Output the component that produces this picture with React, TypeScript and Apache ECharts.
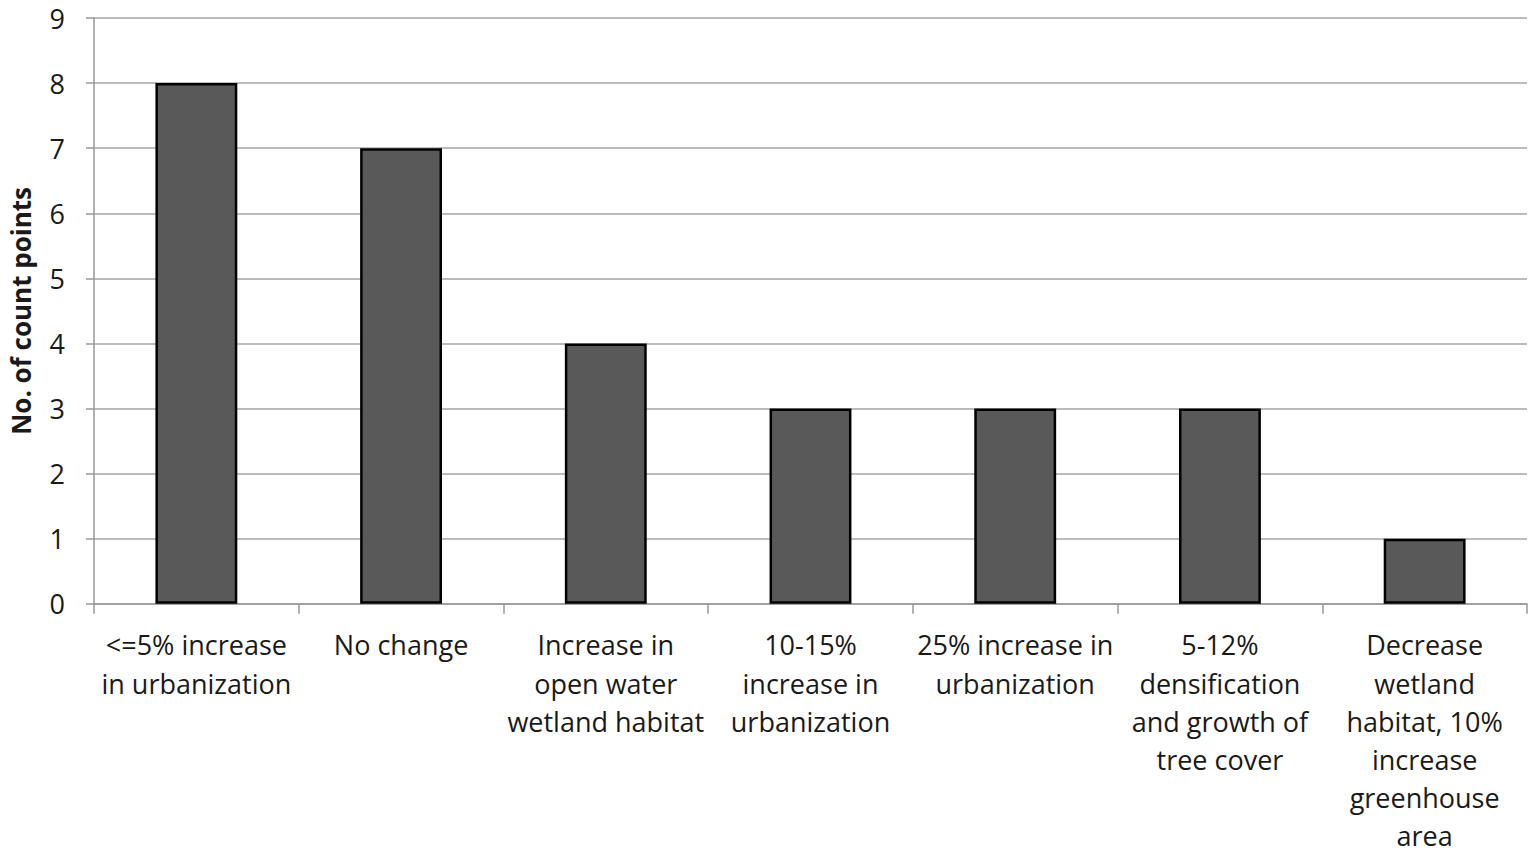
import React, { useEffect, useRef } from "react";
import * as echarts from "echarts";

const categories = [
  "<=5% increase\nin urbanization",
  "No change",
  "Increase in\nopen water\nwetland habitat",
  "10-15%\nincrease in\nurbanization",
  "25% increase in\nurbanization",
  "5-12%\ndensification\nand growth of\ntree cover",
  "Decrease\nwetland\nhabitat, 10%\nincrease\ngreenhouse\narea",
];
const values = [8, 7, 4, 3, 3, 3, 1];
const yTicks = [0, 1, 2, 3, 4, 5, 6, 7, 8, 9];

export default function App() {
  const ref = useRef<HTMLDivElement>(null);
  useEffect(() => {
    if (!ref.current) return;
    const chart = echarts.init(ref.current, null, { renderer: "svg" });
    chart.setOption({
      animation: false,
      backgroundColor: "#ffffff",
      grid: { left: 90, right: 8, top: 18, bottom: 247 },
      xAxis: {
        type: "category",
        data: categories,
        axisLine: { show: true, lineStyle: { color: "#999999", width: 1.5 } },
        axisTick: { show: true, length: 10, alignWithLabel: false, lineStyle: { color: "#999999", width: 1.5 } },
        axisLabel: {
          interval: 0,
          color: "#1a1a1a",
          fontFamily: "Open Sans",
          fontSize: 27,
          lineHeight: 38.2,
          margin: 22,
        },
      },
      yAxis: {
        type: "value",
        min: yTicks[0],
        max: yTicks[yTicks.length - 1],
        interval: 1,
        name: "No. of count points",
        nameLocation: "middle",
        nameGap: 60,
        nameTextStyle: { fontFamily: "Open Sans", fontSize: 26, fontWeight: "bold", color: "#1a1a1a" },
        axisLine: { show: true, lineStyle: { color: "#999999", width: 1.5 } },
        axisTick: { show: true, length: 8, lineStyle: { color: "#999999", width: 1.5 } },
        axisLabel: { color: "#1a1a1a", fontFamily: "Open Sans", fontSize: 27, margin: 29 },
        splitLine: { show: true, lineStyle: { color: "#a6a6a6", width: 1.5 } },
      },
      series: [
        {
          type: "bar",
          data: values,
          barWidth: "40%",
          itemStyle: { color: "#595959", borderColor: "#000000", borderWidth: 2.5 },
        },
      ],
    });
    return () => chart.dispose();
  }, []);
  return (
    <div
      ref={ref}
      style={{ position: "absolute", left: 0, top: 0, width: 1535, height: 855 }}
    />
  );
}
